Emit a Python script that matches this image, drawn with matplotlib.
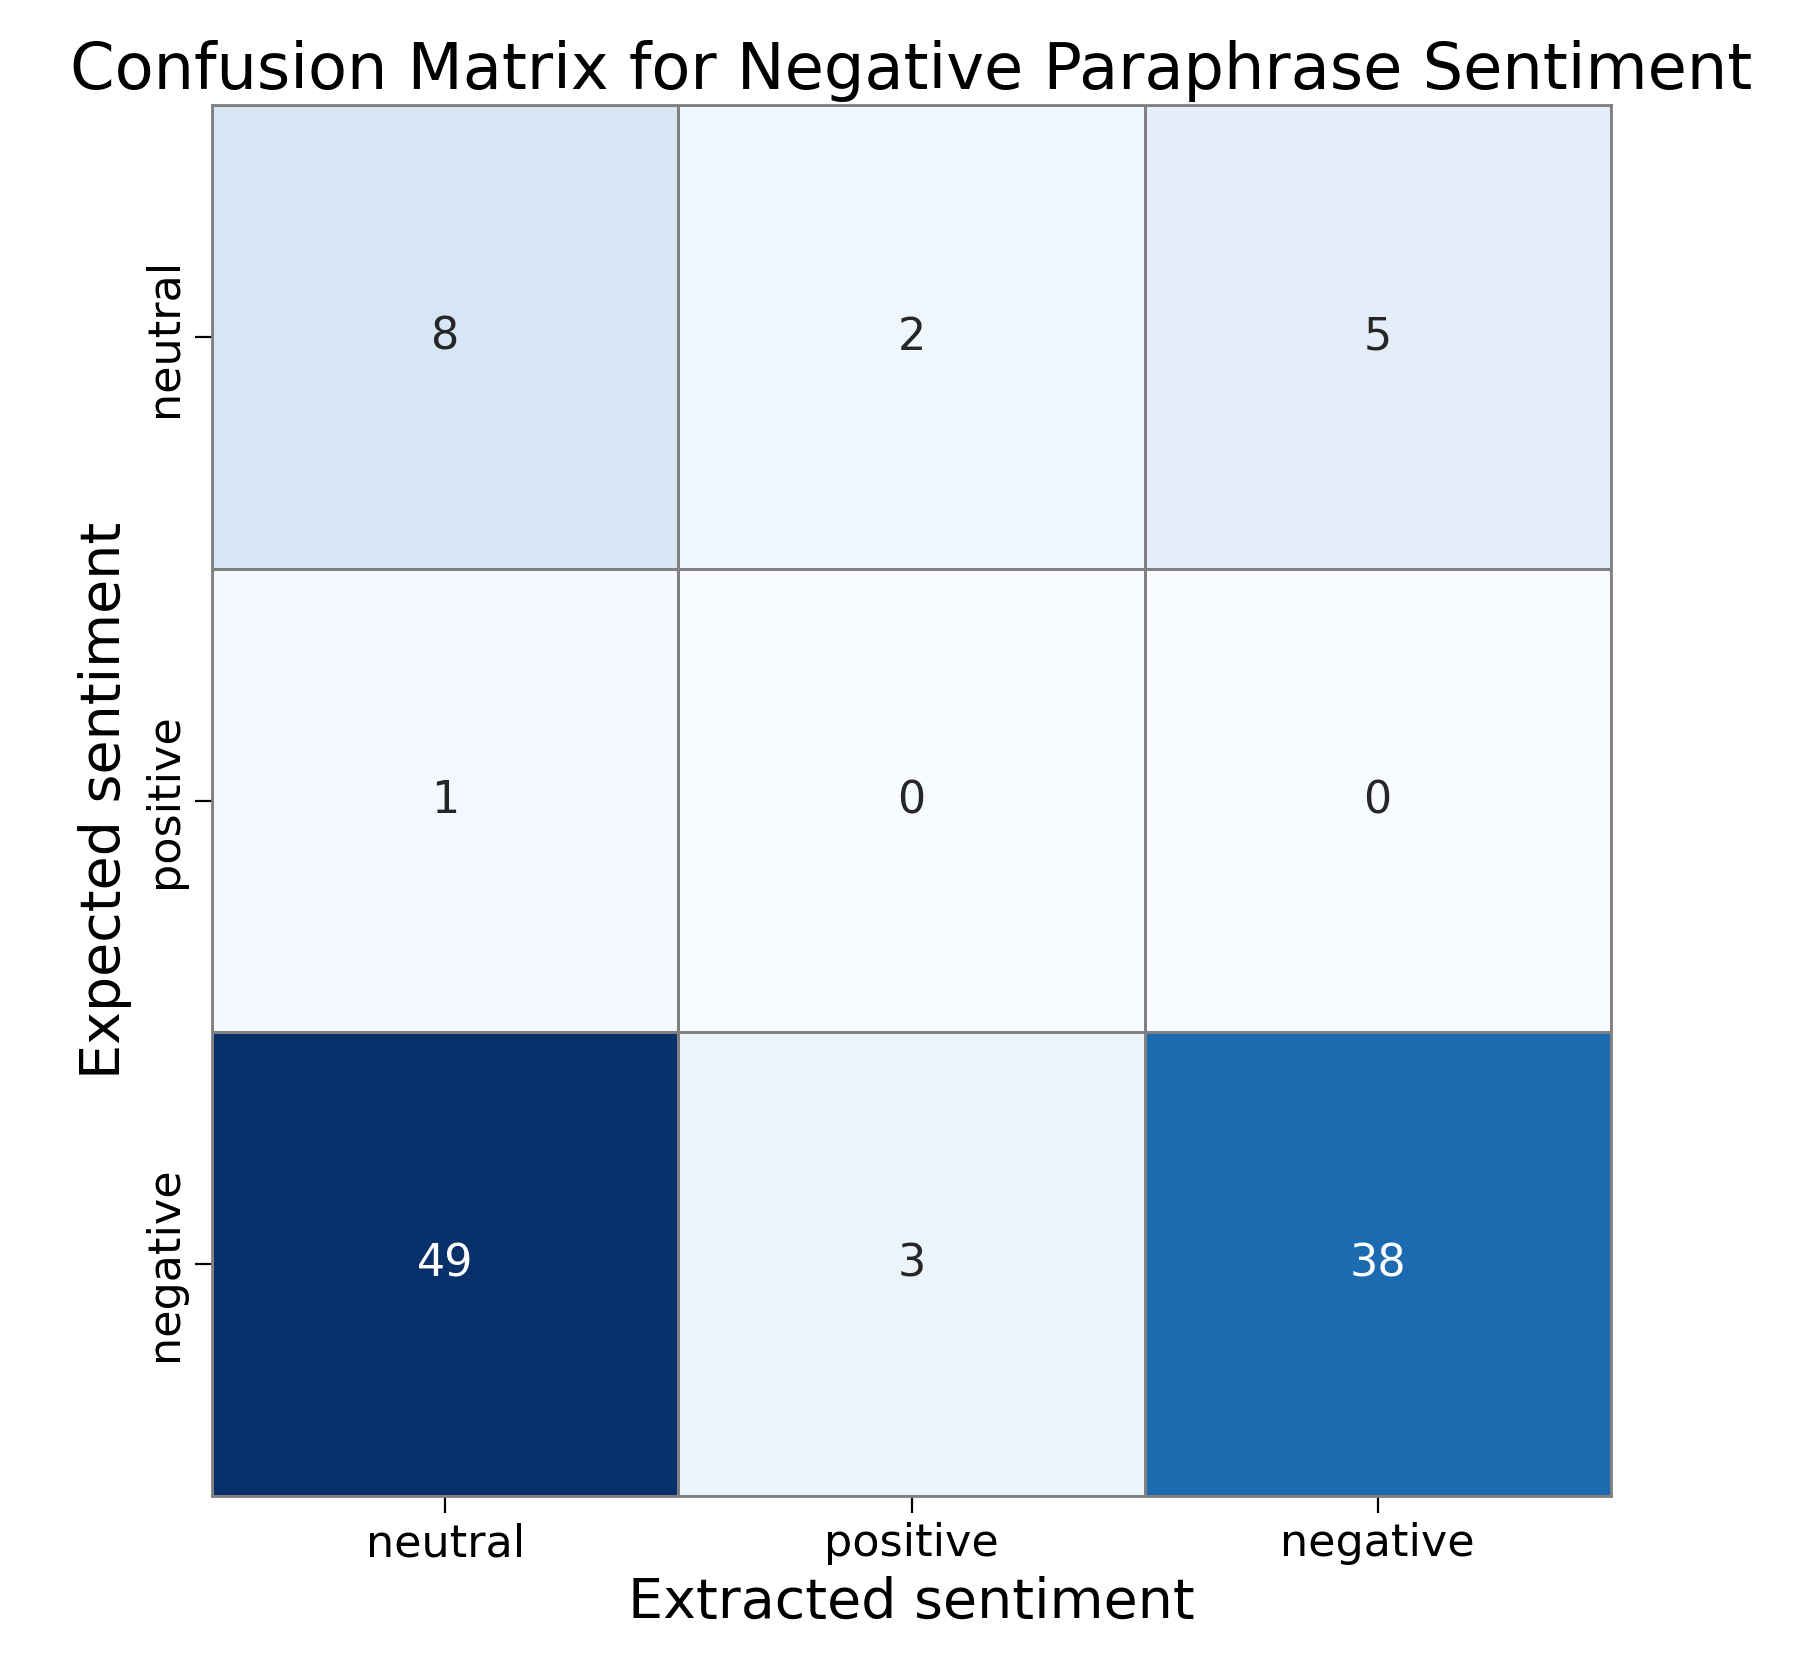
import matplotlib
matplotlib.use("Agg")
import matplotlib.pyplot as plt
import seaborn as sns
import numpy as np

labels = ["neutral", "positive", "negative"]
row_neutral = [8, 2, 5]
row_positive = [1, 0, 0]
row_negative = [49, 3, 38]
cm = np.array([row_neutral, row_positive, row_negative])

fig = plt.figure(figsize=(1814/200, 1673/200), dpi=200)
ax = fig.add_axes([0.117, 0.106, 0.771, 0.831])
sns.heatmap(cm, annot=True, fmt="d", cmap="Blues", cbar=False, linewidths=1,
            linecolor="gray", xticklabels=labels, yticklabels=labels, ax=ax,
            annot_kws={"fontsize": 16})
for s in ax.spines.values():
    s.set_visible(True); s.set_color("gray"); s.set_linewidth(1)
ax.tick_params(labelsize=16, length=6)
ax.set_xlabel("Extracted sentiment", fontsize=20)
ax.set_ylabel("Expected sentiment", fontsize=20)
ax.set_title("Confusion Matrix for Negative Paraphrase Sentiment", fontsize=23)
fig.savefig("out.png", dpi=200)
